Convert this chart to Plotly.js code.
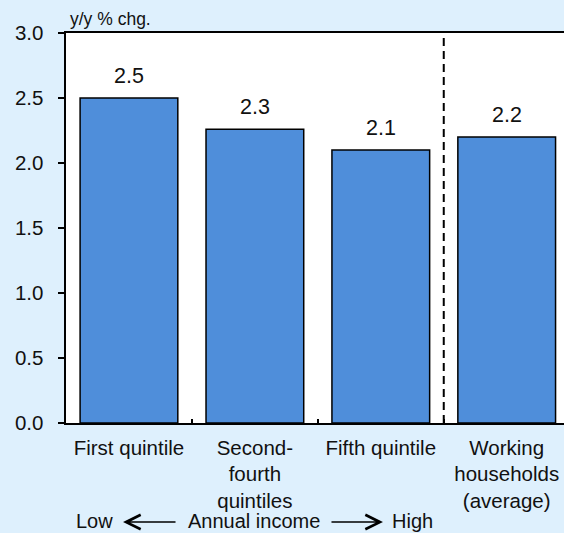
<!DOCTYPE html>
<html>
<head>
<meta charset="utf-8">
<script src="https://cdn.plot.ly/plotly-3.0.1.min.js"></script>
<style>
  html, body { margin: 0; padding: 0; background: #DEF0FD; }
  #chart { width: 564px; height: 533px; }
</style>
</head>
<body>
<div id="chart"></div>
<script>
// Wage growth by income group, y/y % change
const categories = [
  'First quintile',
  'Second-<br>fourth<br>quintiles',
  'Fifth quintile',
  'Working<br>households<br>(average)'
];
const values = [2.5, 2.26, 2.1, 2.2];
const yTicks = [0, 0.5, 1.0, 1.5, 2.0, 2.5, 3.0];
const yTickLabels = ['0.0', '0.5', '1.0', '1.5', '2.0', '2.5', '3.0'];

const FONT = 'Liberation Sans, Arial, Helvetica, sans-serif';
const INK = '#111111';

const bars = {
  type: 'bar',
  x: categories,
  y: values,
  marker: { color: '#4F8EDA', line: { color: '#000000', width: 1.5 } },
  hoverinfo: 'skip'
};

// value labels above each bar
const valueNotes = categories.map((c, i) => ({
  x: c, y: values[i], xref: 'x', yref: 'y',
  text: values[i].toFixed(1),
  showarrow: false, yanchor: 'bottom', yshift: 8,
  font: { family: FONT, size: 21.5, color: INK }
}));

// income direction line under the axis labels
const yRow = -0.25;
const incomeNotes = [
  { x: 0.058, text: 'Low' },
  { x: 0.3785, text: 'Annual income' },
  { x: 0.696, text: 'High' }
].map(n => ({
  x: n.x, y: yRow, xref: 'paper', yref: 'paper', text: n.text,
  showarrow: false, xanchor: 'center', yanchor: 'middle', borderpad: 0,
  font: { family: FONT, size: 20, color: INK }
}));

const arrowNotes = [
  { x: 0.1145, ax: 54 },
  { x: 0.6365, ax: -53 }
].map(a => ({
  x: a.x, y: yRow - 0.004, xref: 'paper', yref: 'paper', text: '',
  showarrow: true, ax: a.ax, ay: 0, arrowhead: 5, arrowsize: 1.9,
  arrowwidth: 1.5, arrowcolor: '#000000', standoff: 0
}));

const unitNote = {
  x: 68, y: 19, xref: 'paper', yref: 'paper', text: 'y/y % chg.',
  showarrow: false, xanchor: 'left', yanchor: 'middle',
  font: { family: FONT, size: 17.5, color: INK }
};

const layout = {
  width: 564, height: 533,
  margin: { l: 66, r: 0, t: 33, b: 110, pad: 0 },
  paper_bgcolor: '#DEF0FD',
  plot_bgcolor: '#FFFFFF',
  showlegend: false,
  bargap: 0.224,
  xaxis: {
    type: 'category',
    range: [-0.5, 3.455],
    showgrid: false, zeroline: false,
    showline: true, linecolor: '#000000', linewidth: 2, mirror: true,
    ticks: 'inside', tickson: 'boundaries', ticklen: 4, tickwidth: 1.5, tickcolor: '#000000',
    ticklabelstandoff: 5,
    tickfont: { family: FONT, size: 20.5, color: INK },
    fixedrange: true
  },
  yaxis: {
    range: [0, 3],
    tickvals: yTicks, ticktext: yTickLabels,
    showgrid: false, zeroline: false,
    showline: true, linecolor: '#000000', linewidth: 2.5, mirror: false,
    ticks: 'outside', ticklen: 6, tickwidth: 1.5, tickcolor: '#000000',
    ticklabelstandoff: 10,
    tickfont: { family: FONT, size: 20.5, color: INK },
    fixedrange: true
  },
  shapes: [{
    type: 'line', xref: 'x', yref: 'paper',
    x0: 2.5, x1: 2.5, y0: 0, y1: 1,
    line: { color: '#000000', width: 2, dash: '8px,5px' }
  }],
  annotations: valueNotes.concat(incomeNotes, arrowNotes)
};

// unit label sits above the plot area, placed in paper fractions
const plotW = 564 - 66, plotH = 533 - 33 - 110;
unitNote.x = (68 - 66) / plotW;
unitNote.y = (533 - 110 - 19) / plotH;
layout.annotations.push(unitNote);

Plotly.newPlot('chart', [bars], layout, { staticPlot: true, displayModeBar: false });
</script>
</body>
</html>
